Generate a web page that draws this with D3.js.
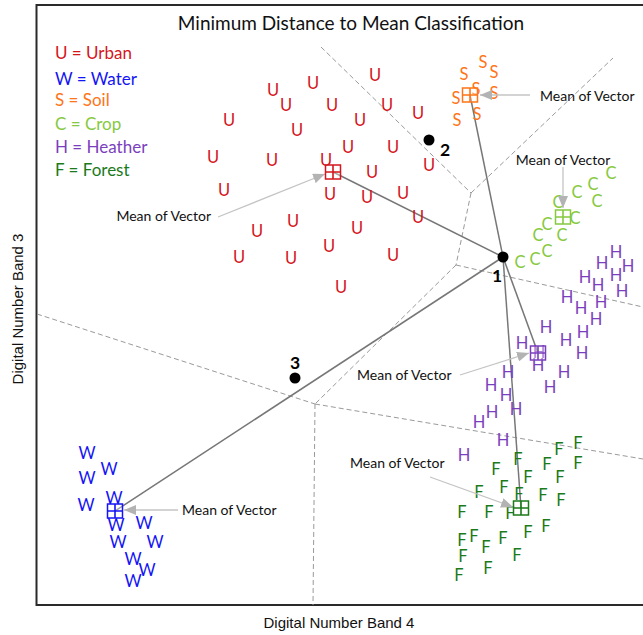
<!DOCTYPE html>
<html>
<head>
<meta charset="utf-8">
<script src="https://cdn.jsdelivr.net/npm/d3@7"></script>
<style>
  html, body { margin: 0; padding: 0; background: #fff; }
  svg { display: block; }
</style>
</head>
<body>
<svg id="chart" width="643" height="635"></svg>
<script>
// Training samples per class, as [band 4, band 3] digital numbers
const urban = [[169,265],[118,257.5],[138,261],[124.5,250],[147.5,250],[175,250],[190.5,246],[96,242.5],[161.5,242.5],[130,237.5],[155.5,229],[178,229],[88,224],[117.5,222.5],[144.5,222.5],[196,220],[167.5,216.5],[93.5,207.5],[146.5,205.5],[165,204],[183,206],[190.5,194],[128,192],[110,187],[160,188.5],[146,179.5],[101,174],[127,173.5],[178,175],[152,159]];
const water = [[25,76],[36,68],[25,63.5],[24.5,50],[38.5,53.5],[39.5,40],[53.5,41],[40.5,31.5],[59,31.5],[48,23],[55,17.5],[48,12]];
const soil = [[223,271.5],[213.5,265.5],[228.5,266.5],[219.5,258],[228.5,256],[209.5,253.5],[210,242.5],[220,245.5]];
const crop = [[287,216],[278,210.5],[270,206.5],[280,202],[260.5,201.5],[269,193.5],[255,190.5],[250.5,185],[262.5,185],[255,177],[249,173],[241.5,171.5]];
const heather = [[289.5,176.5],[282.5,171],[295.5,169.5],[274,164],[280.5,160],[289.5,165],[292.5,157],[265,154],[282,151.5],[272,148.5],[279.5,143],[254.5,139],[273,136.5],[264.5,132.5],[242.5,131],[272.5,126],[251,126.5],[250.5,120],[235.5,116.5],[263.5,116.5],[227,110],[256.5,109],[234.5,105],[227.5,96.5],[239.5,98],[221,91.5],[233,82.5],[213.5,75]];
const forest = [[261,78],[270.5,81],[270.5,71],[240.5,73],[229.5,68],[255,70.5],[245.5,64],[261.5,64],[221,56.5],[233.5,59],[241,55.5],[253,55],[262,52.5],[212.5,46.5],[226,46.5],[236.5,46],[245.5,36.5],[254.5,39.5],[212.5,32.5],[218.5,34.5],[233,33.5],[224.5,29],[213,24.5],[240,25],[225.5,18.5],[211,15]];

// Class definitions: code letter, name, colour, samples, class mean
const classes = [
  { code: "U", name: "Urban",   color: "#d4161c", pts: urban,   mean: [148, 216.5] },
  { code: "W", name: "Water",   color: "#1414f5", pts: water,   mean: [39, 47] },
  { code: "S", name: "Soil",    color: "#ff7417", pts: soil,    mean: [216.5, 255] },
  { code: "C", name: "Crop",    color: "#86c940", pts: crop,    mean: [263, 194] },
  { code: "H", name: "Heather", color: "#7b3fbd", pts: heather, mean: [250.5, 126] },
  { code: "F", name: "Forest",  color: "#1b7a1b", pts: forest,  mean: [242, 48.5] }
];

// Unknown pixels to be classified
const unknowns = [
  { label: "1", p: [233, 174] },
  { label: "2", p: [196, 232.5] },
  { label: "3", p: [129, 113.5] }
];

// Distances drawn from pixel 1 to these class means
const linkedClasses = ["U", "S", "H", "F", "W"];

// Decision boundaries (dashed)
const boundaries = [
  [[142, 279], [217, 206]],
  [[217, 206], [288, 273.5]],
  [[217, 206], [209.5, 170]],
  [[209.5, 170], [303, 149]],
  [[209.5, 170], [139, 100.5]],
  [[0, 145.5], [139, 100.5]],
  [[139, 100.5], [138, 0]],
  [[139, 100.5], [303, 73]]
];

// "Mean of Vector" callouts: text position, anchor, arrow from/to
const callouts = [
  { text: [87, 194.5],   anchor: "end",    from: [90.5, 194],  to: [144, 215.5] },
  { text: [251.5, 254.5],anchor: "start",  from: [246.5, 255], to: [221.5, 255] },
  { text: [263, 222.5],  anchor: "middle", from: [263, 219],   to: [263, 198.5] },
  { text: [160, 115],    anchor: "start",  from: [211.5, 115], to: [246, 126] },
  { text: [156.5, 71],   anchor: "start",  from: [196.5, 64],  to: [238, 49] },
  { text: [72.5, 47.5],  anchor: "start",  from: [70.5, 47.5], to: [43.5, 47.5] }
];

const title = "Minimum Distance to Mean Classification";
const xTitle = "Digital Number Band 4";
const yTitle = "Digital Number Band 3";

const svg = d3.select("#chart");
const frameLeft = 37, frameTop = 5, frameBottom = 605;
const x = d3.scaleLinear().domain([0, 303]).range([frameLeft, 643]);
const y = d3.scaleLinear().domain([0, 300]).range([frameBottom, frameTop]);

const font = "Lato, 'Open Sans', sans-serif";

// Frame (right side runs past the view)
svg.append("rect")
  .attr("x", frameLeft - 0.5).attr("y", frameTop)
  .attr("width", 700).attr("height", frameBottom - frameTop)
  .attr("fill", "none").attr("stroke", "#2a2a2a").attr("stroke-width", 2);

// Boundaries
svg.append("g").selectAll("line").data(boundaries).join("line")
  .attr("x1", d => x(d[0][0])).attr("y1", d => y(d[0][1]))
  .attr("x2", d => x(d[1][0])).attr("y2", d => y(d[1][1]))
  .attr("stroke", "#9a9a9a").attr("stroke-width", 1)
  .attr("stroke-dasharray", "5,3");

// Distance lines from pixel 1
const p1 = unknowns[0].p;
svg.append("g").selectAll("line")
  .data(classes.filter(c => linkedClasses.includes(c.code))).join("line")
  .attr("x1", x(p1[0])).attr("y1", y(p1[1]))
  .attr("x2", d => x(d.mean[0])).attr("y2", d => y(d.mean[1]))
  .attr("stroke", "#777").attr("stroke-width", 1.5);

// Sample letters
classes.forEach(c => {
  svg.append("g").selectAll("text").data(c.pts).join("text")
    .attr("x", d => x(d[0])).attr("y", d => y(d[1]))
    .attr("dy", "0.36em")
    .attr("text-anchor", "middle")
    .attr("font-family", font).attr("font-size", 16.5)
    .attr("fill", c.color)
    .text(c.code);
});

// Callout arrows
const defs = svg.append("defs");
defs.append("marker").attr("id", "tip")
  .attr("viewBox", "0 0 12 10").attr("refX", 12).attr("refY", 5)
  .attr("markerWidth", 12).attr("markerHeight", 10)
  .attr("markerUnits", "userSpaceOnUse").attr("orient", "auto")
  .append("path").attr("d", "M0,0L12,5L0,10Z").attr("fill", "#b3b3b3");

svg.append("g").selectAll("line").data(callouts).join("line")
  .attr("x1", d => x(d.from[0])).attr("y1", d => y(d.from[1]))
  .attr("x2", d => x(d.to[0])).attr("y2", d => y(d.to[1]))
  .attr("stroke", "#c4c4c4").attr("stroke-width", 1.3)
  .attr("marker-end", "url(#tip)");

svg.append("g").selectAll("text").data(callouts).join("text")
  .attr("x", d => x(d.text[0])).attr("y", d => y(d.text[1]))
  .attr("dy", "0.36em")
  .attr("text-anchor", d => d.anchor)
  .attr("font-family", font).attr("font-size", 14)
  .attr("fill", "#111")
  .text("Mean of Vector");

// Class mean markers (square with cross)
const mk = svg.append("g").selectAll("g").data(classes).join("g")
  .attr("transform", d => `translate(${x(d.mean[0])},${y(d.mean[1])})`);
mk.append("rect").attr("x", -7.5).attr("y", -7).attr("width", 15).attr("height", 14)
  .attr("fill", "#fff").attr("fill-opacity", 0.35)
  .attr("stroke", d => d.color).attr("stroke-width", 1.5);
mk.append("path").attr("d", "M-7.5,0H7.5M0,-7V7")
  .attr("stroke", d => d.color).attr("stroke-width", 1.6);

// Unknown pixels
svg.append("g").selectAll("circle").data(unknowns).join("circle")
  .attr("cx", d => x(d.p[0])).attr("cy", d => y(d.p[1]))
  .attr("r", 5.5).attr("fill", "#000");

const labelOffsets = { "1": [-6, 19], "2": [16, 10], "3": [0, -15] };
svg.append("g").selectAll("text").data(unknowns).join("text")
  .attr("x", d => x(d.p[0]) + labelOffsets[d.label][0])
  .attr("y", d => y(d.p[1]) + labelOffsets[d.label][1])
  .attr("dy", "0.36em").attr("text-anchor", "middle")
  .attr("font-family", font).attr("font-size", 17.5).attr("font-weight", 700)
  .attr("fill", "#000")
  .text(d => d.label);

// Legend
svg.append("g").selectAll("text").data(classes).join("text")
  .attr("x", 55)
  .attr("y", (d, i) => [53, 78.5, 99.5, 124, 146.5, 169.5][i])
  .attr("dy", "0.36em")
  .attr("font-family", font).attr("font-size", 17)
  .attr("fill", d => d.color)
  .text(d => `${d.code} = ${d.name}`);

// Title
svg.append("text")
  .attr("x", 351).attr("y", 23).attr("dy", "0.36em")
  .attr("text-anchor", "middle")
  .attr("font-family", font).attr("font-size", 19)
  .attr("fill", "#111")
  .text(title);

// Axis titles
svg.append("text")
  .attr("x", 339).attr("y", 623).attr("dy", "0.36em")
  .attr("text-anchor", "middle")
  .attr("font-family", "'Liberation Sans', Arial, sans-serif").attr("font-size", 15)
  .attr("fill", "#111")
  .text(xTitle);

svg.append("text")
  .attr("transform", "translate(18,309) rotate(-90)")
  .attr("dy", "0.36em")
  .attr("text-anchor", "middle")
  .attr("font-family", "'Liberation Sans', Arial, sans-serif").attr("font-size", 15)
  .attr("fill", "#111")
  .text(yTitle);
</script>
</body>
</html>
